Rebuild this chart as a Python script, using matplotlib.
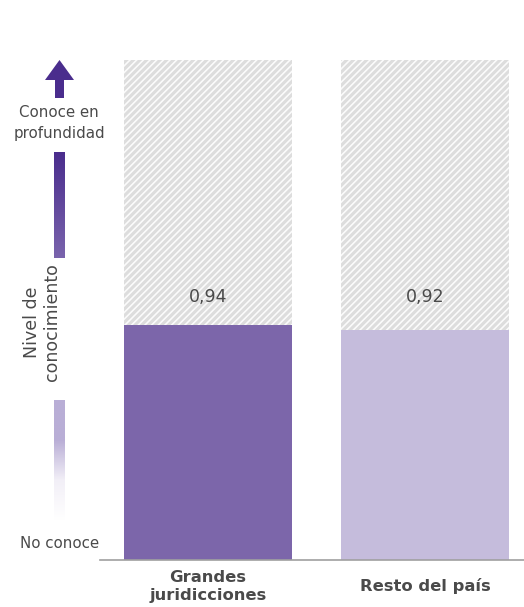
import numpy as np
import matplotlib.pyplot as plt
from matplotlib.colors import LinearSegmentedColormap
from matplotlib.patches import Polygon

plt.rcParams['font.family'] = ['DejaVu Sans']
plt.rcParams['hatch.linewidth'] = 2.2

categories = ["Grandes\njuridicciones", "Resto del país"]
values = [0.94, 0.92]
scale_max = 2.0
bar_colors = ["#7c66aa", "#c5bcdc"]
text_color = "#4a4a4a"

fig = plt.figure(figsize=(5.24, 6.07), dpi=100)
ax = fig.add_axes([100 / 524, 47 / 607, 424 / 524, 500 / 607])
leg = fig.add_axes([0, 47 / 607, 100 / 524, 500 / 607], sharey=ax)

x = np.arange(len(categories))
width = 0.774

# hatched background showing the full scale
ax.bar(x, [scale_max] * len(x), width, color="#fbfbfb", hatch="/////",
       edgecolor="#dddddd", linewidth=0)
ax.bar(x, values, width, color=bar_colors, linewidth=0)

# value labels sit at a common height above the bars
label_y = max(values) + 0.11
for xi, v in zip(x, values):
    ax.text(xi, label_y, f"{v:.2f}".replace(".", ","), ha="center",
            va="center", fontsize=12.5, color=text_color)

ax.set_xlim(-0.498, 1.456)
ax.set_ylim(0, scale_max)
ax.set_xticks(x, categories, fontweight="bold", fontsize=11.8,
              color=text_color, linespacing=1.25, va="center")
ax.tick_params(axis="x", length=0, pad=19)
ax.tick_params(axis="y", left=False, labelleft=False)
for s in ["top", "right", "left"]:
    ax.spines[s].set_visible(False)
ax.spines["bottom"].set_color("#a0a0a0")
ax.spines["bottom"].set_linewidth(1.2)

# knowledge-level key on the left
leg.axis("off")


def py(p):
    return (560 - p) / 250


dark = LinearSegmentedColormap.from_list("dark", ["#7a64ad", "#4a2d8d"])
light = LinearSegmentedColormap.from_list("light", ["#ffffff", "#f2eff7", "#b9aed6", "#b9aed6"])
grad = np.linspace(0, 1, 256).reshape(-1, 1)
leg.imshow(grad, cmap=dark, origin="lower", aspect="auto",
           extent=[54, 65, py(258), py(152)], zorder=2)
leg.imshow(grad, cmap=light, origin="lower", aspect="auto",
           extent=[54, 65, py(520), py(400)], zorder=2)
leg.set_xlim(0, 100)
leg.set_ylim(0, scale_max)

arrow = Polygon([[55, py(98)], [64, py(98)], [64, py(80)], [74, py(80)],
                 [59.5, py(60)], [45, py(80)], [55, py(80)]],
                closed=True, color="#4a2d8d", linewidth=0)
leg.add_patch(arrow)

leg.text(59, py(123), "Conoce en\nprofundidad", ha="center", va="center",
         fontsize=10.8, color=text_color, linespacing=1.45)
leg.text(60, py(543), "No conoce", ha="center", va="center",
         fontsize=10.8, color=text_color)
leg.text(42, py(322), "Nivel de\nconocimiento", ha="center", va="center",
         rotation=90, fontsize=12.5, color=text_color, linespacing=1.15)

fig.savefig("out.png", dpi=100)
